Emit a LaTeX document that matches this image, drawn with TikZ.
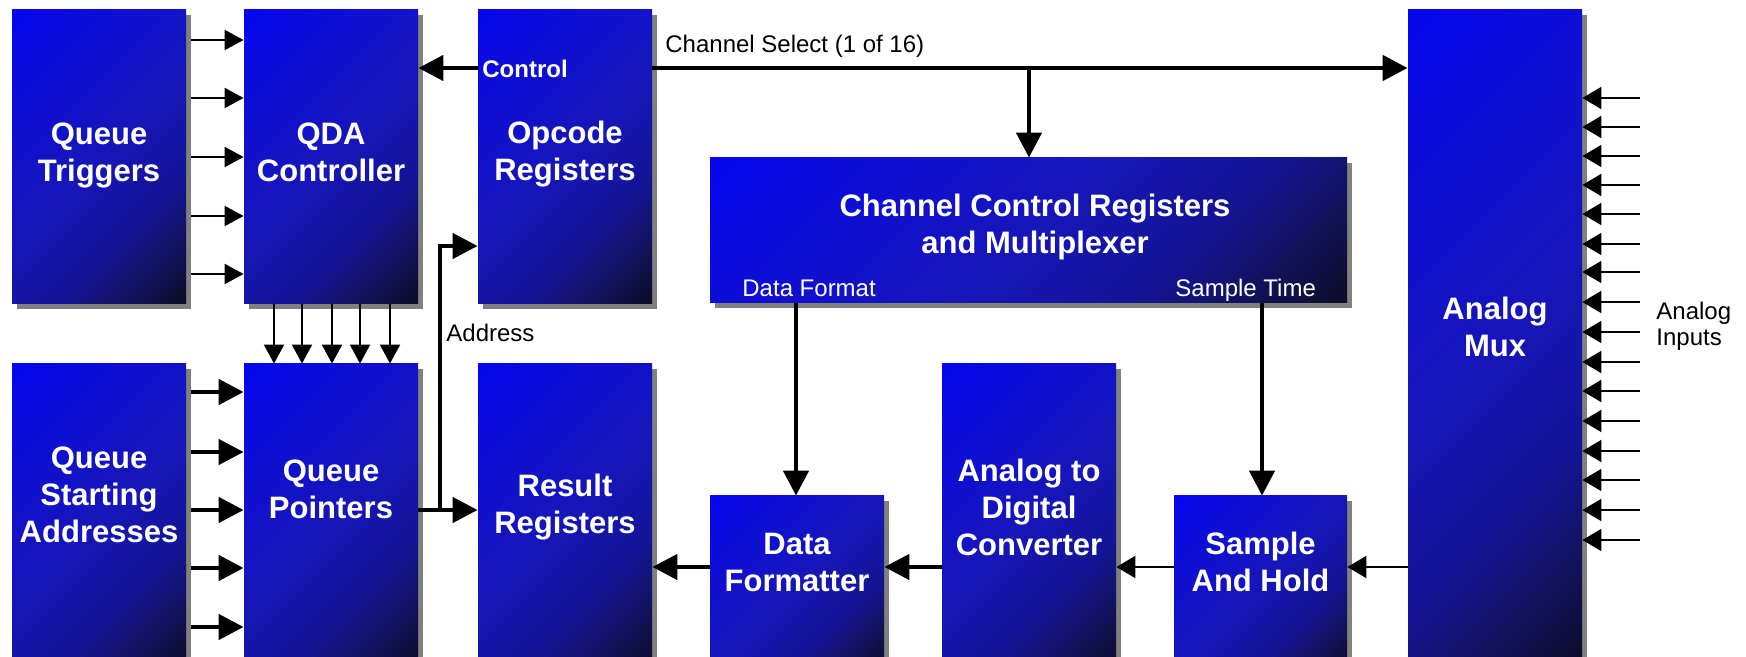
\documentclass[tikz,border=0pt]{standalone}
\usepackage{fontspec}
\setmainfont{Liberation Sans}
\usetikzlibrary{arrows.meta,shadows}
\definecolor{bxa}{RGB}{12,12,40}
\definecolor{bxb}{RGB}{18,18,92}
\definecolor{bxc}{RGB}{20,20,150}
\definecolor{bxd}{RGB}{22,22,186}
\definecolor{bxe}{RGB}{14,14,214}
\definecolor{bxf}{RGB}{5,5,240}
\pgfdeclareverticalshading{boxsh}{100bp}{color(0bp)=(bxa); color(15bp)=(bxa); color(24bp)=(bxb); color(34bp)=(bxc); color(50bp)=(bxd); color(70bp)=(bxe); color(86bp)=(bxf); color(100bp)=(bxf)}
\begin{document}
\begin{tikzpicture}[x=0.5pt,y=-0.5pt,
  blk/.style={rectangle, inner sep=0pt, shade, shading=boxsh, shading angle=45,
    drop shadow={shadow xshift=2.5pt, shadow yshift=-2.5pt, fill=black!50, opacity=1}},
  big/.style={text=white, align=center, inner sep=0pt,
    font=\fontsize{15.5pt}{18.5pt}\selectfont\bfseries},
  sm/.style={inner sep=0pt, font=\fontsize{12pt}{13pt}\selectfont},
  smb/.style={inner sep=0pt, font=\fontsize{12pt}{13pt}\selectfont\bfseries},
  Tarr/.style={line width=2.3pt, -{Triangle[length=12.5pt,width=12.5pt]}},
  tarr/.style={line width=1pt, -{Triangle[length=9.5pt,width=10pt]}},
  tarrb/.style={line width=1pt, -{Triangle[length=9.5pt,width=11pt]}}]
\useasboundingbox (0,0) rectangle (1746,657);
\clip (0,0) rectangle (1746,657);

% boxes
\node[blk, minimum width=87pt, minimum height=147pt] (qt)  at (99,157) {};
\node[blk, minimum width=87pt, minimum height=147pt] (qda) at (331,157) {};
\node[blk, minimum width=87pt, minimum height=147pt] (opc) at (565,157) {};
\node[blk, minimum width=87pt, minimum height=153pt] (qsa) at (99,517) {};
\node[blk, minimum width=87pt, minimum height=153pt] (qp)  at (331,517) {};
\node[blk, minimum width=87pt, minimum height=153pt] (res) at (565,517) {};
\node[blk, minimum width=318.5pt, minimum height=72.5pt] (ccr) at (1028.5,230.5) {};
\node[blk, minimum width=87pt, minimum height=87pt] (df)  at (797,583) {};
\node[blk, minimum width=87pt, minimum height=153pt] (adc) at (1029,517) {};
\node[blk, minimum width=86.5pt, minimum height=87pt] (sh) at (1260.5,583) {};
\node[blk, minimum width=87pt, minimum height=330pt] (mux) at (1495,340) {};

% box labels
\node[big] (qtl)  at (99,155) {Queue\\Triggers};
\node[big] (qdal) at (331,152) {QDA\\Controller};
\node[big] (opcl) at (565,154) {Opcode\\Registers};
\node[big] (qsal) at (99,494.5) {Queue\\Starting\\Addresses};
\node[big] (qpl)  at (331,489.5) {Queue\\Pointers};
\node[big] (resl) at (565,507) {Result\\Registers};
\node[big] (ccrl) at (1035,227) {Channel Control Registers\\and Multiplexer};
\node[big] (dfl)  at (797,562) {Data\\Formatter};
\node[big] (adcl) at (1029,507.5) {Analog to\\Digital\\Converter};
\node[big] (shl)  at (1260.5,562) {Sample\\And Hold};
\node[big] (muxl) at (1495,326.5) {Analog\\Mux};

% small texts
\node[sm, anchor=base west] (cs)  at (665,53) {Channel Select (1 of 16)};
\node[smb, text=white, anchor=base west] (ctl) at (482,78) {Control};
\node[sm, anchor=base west] (adr) at (446,342) {Address};
\node[sm, text=white, anchor=base west] (dfm) at (742,297) {Data Format};
\node[sm, text=white, anchor=base west] (smt) at (1175,297) {Sample Time};
\node[sm, anchor=base west] (ai1) at (1656,320) {Analog};
\node[sm, anchor=base west] (ai2) at (1656,346) {Inputs};

% queue triggers -> QDA controller
\foreach \y in {40,98,157,216,274}
  \draw[tarr] (qt.east |- 0,\y) ++(2.5pt,0) -- (qda.west |- 0,\y);
% QDA controller -> queue pointers
\foreach \x in {274,302,332,360,390}
  \draw[tarr] (qda.south -| \x,0) -- (qp.north -| \x,0);
% queue starting addresses -> queue pointers
\foreach \y in {392,452,510,568,627}
  \draw[Tarr] (qsa.east |- 0,\y) ++(2.5pt,0) -- (qp.west |- 0,\y);
% queue pointers -> result registers, address -> opcode
\draw[Tarr] (qp.east |- 0,510) -- (res.west |- 0,510);
\coordinate (aj) at (440,510);
\draw[Tarr] (aj) |- (opc.west |- 0,246);
% control
\draw[Tarr] (opc.west |- 0,68) -- (qda.east |- 0,68);
% channel select
\draw[Tarr] (opc.east |- 0,68) -- (mux.west |- 0,68);
\coordinate (br) at (1029,68);
\draw[Tarr] (br) -- (ccr.north -| br);
% data format / sample time
\draw[Tarr] (ccr.south -| 796,0) -- (df.north -| 796,0);
\draw[Tarr] (ccr.south -| 1262,0) -- (sh.north -| 1262,0);
% data path
\draw[Tarr] (adc.west |- 0,567) -- (df.east |- 0,567);
\draw[tarrb] (sh.west |- 0,567) -- (adc.east |- 0,567);
\draw[tarrb] (mux.west |- 0,567) -- (sh.east |- 0,567);
\draw[Tarr] (df.west |- 0,567) -- (res.east |- 0,567);
% analog inputs
\foreach \y in {98,127,156,185,214,244,272,302,332,362,391,421,451,480,510,540}{
  \coordinate (ain\y) at (1640,\y);
  \draw[tarrb] (ain\y) -- (mux.east |- ain\y);
}
\end{tikzpicture}
\end{document}
